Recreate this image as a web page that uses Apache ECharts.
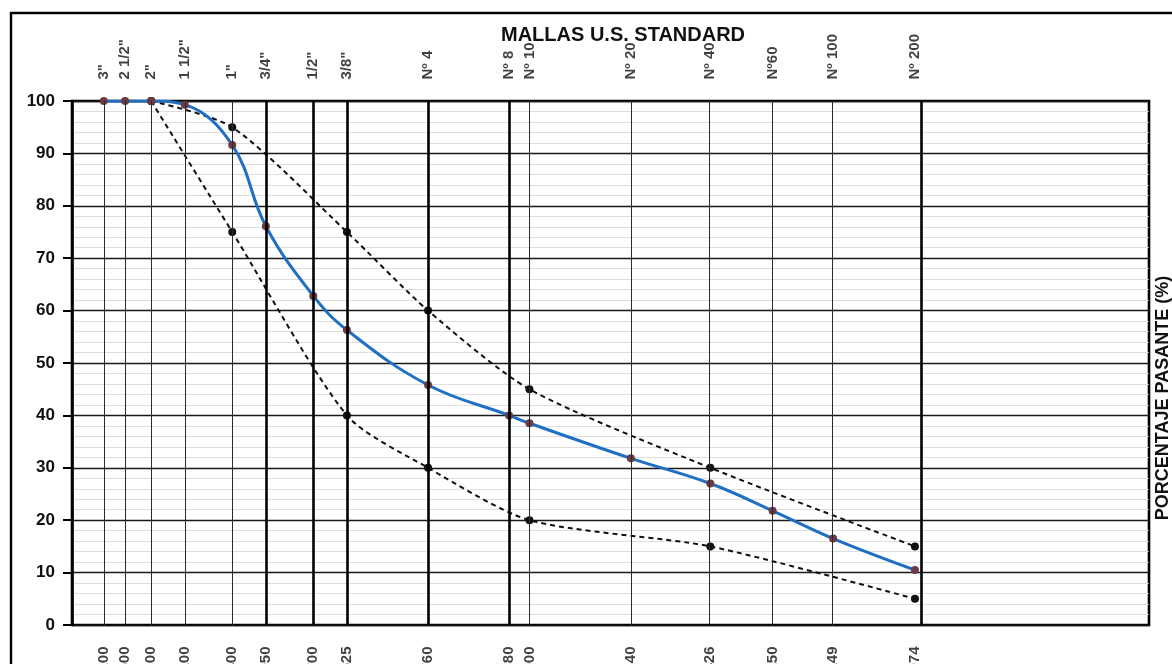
<!DOCTYPE html>
<html>
<head>
<meta charset="utf-8">
<script src="https://cdn.jsdelivr.net/npm/echarts@6/dist/echarts.min.js"></script>
<style>
  html, body { margin: 0; padding: 0; background: #fff; }
  #chart { width: 1172px; height: 664px; }
</style>
</head>
<body>
<div id="chart"></div>
<script>
// Sieve series (U.S. Standard) and their openings in mm
const sieveNames = ['3"', '2 1/2"', '2"', '1 1/2"', '1"', '3/4"', '1/2"', '3/8"', 'Nº 4', 'Nº 8', 'Nº 10', 'Nº 20', 'Nº 40', 'Nº60', 'Nº 100', 'Nº 200'];
const sieveSizes = [76.2, 63.5, 50.8, 38.1, 25.4, 19.05, 12.7, 9.525, 4.76, 2.38, 2.0, 0.84, 0.426, 0.25, 0.149, 0.074];
// Sieves drawn with a heavy rule
const heavySieves = ['3/4"', '1/2"', '3/8"', 'Nº 4', 'Nº 8', 'Nº 200'];

// Percent passing of the sample, one value per sieve
const passing = [100, 100, 100, 99.3, 91.6, 76.1, 62.8, 56.3, 45.8, 40.0, 38.5, 31.8, 27.0, 21.8, 16.5, 10.5];

// Gradation band limits
const specSizes = [50.8, 25.4, 9.525, 4.76, 2.0, 0.426, 0.074];
const specUpper = [100, 95, 75, 60, 45, 30, 15];
const specLower = [100, 75, 40, 30, 20, 15, 5];

const FONT = '"Liberation Sans", Arial, sans-serif';

const pairs = (xs, ys) => xs.map((x, i) => [x, ys[i]]);

const sieveRules = sieveNames.map((name, i) => {
  const heavy = heavySieves.includes(name);
  return {
    xAxis: sieveSizes[i],
    lineStyle: { color: heavy ? '#000' : '#2a2a2a', width: heavy ? 2.6 : 1, type: 'solid' }
  };
});

const chart = echarts.init(document.getElementById('chart'), null, { renderer: 'canvas' });

chart.setOption({
  backgroundColor: '#fff',
  animation: false,
  title: {
    text: 'MALLAS U.S. STANDARD',
    left: 496, top: 20,
    textStyle: { fontFamily: FONT, fontWeight: 'bold', fontSize: 20, color: '#111' }
  },
  grid: {
    left: 72, right: 23, top: 101, bottom: 39,
    show: true, borderColor: '#000', borderWidth: 2.6, backgroundColor: 'transparent'
  },
  xAxis: {
    type: 'log', logBase: 10, min: 0.01, max: 100, inverse: true,
    axisLine: { show: false }, axisTick: { show: false }, axisLabel: { show: false },
    splitLine: { show: false }
  },
  yAxis: [{
    type: 'value', min: 0, max: 100, interval: 10,
    axisLine: { show: true, lineStyle: { color: '#000', width: 2.6 } },
    axisTick: { show: true, inside: false, length: 9, lineStyle: { color: '#000', width: 2 } },
    axisLabel: { margin: 17, fontFamily: FONT, fontWeight: 'bold', fontSize: 17, color: '#111' },
    splitLine: { show: true, lineStyle: { color: '#1a1a1a', width: 1.4 } },
    minorTick: { show: false, splitNumber: 5 },
    minorSplitLine: { show: true, lineStyle: { color: '#d6d6d6', width: 0.8 } }
  }],
  graphic: [
    {
      type: 'rect', silent: true, z: -1,
      shape: { x: 11, y: 13, width: 1200, height: 700 },
      style: { fill: 'transparent', stroke: '#000', lineWidth: 2.4 }
    },
    {
      type: 'text', silent: true,
      x: 1163, y: 398, rotation: Math.PI / 2,
      style: {
        text: 'PORCENTAJE PASANTE (%)', fill: '#111',
        font: 'bold 18px ' + FONT, align: 'center', verticalAlign: 'middle'
      }
    }
  ],
  series: [
    {
      // Sieve rules and names above the grid
      name: 'mallas', type: 'scatter', symbolSize: 1,
      itemStyle: { color: 'transparent' }, silent: true, z: 1,
      data: sieveNames.map((n, i) => ({ name: n, value: [sieveSizes[i], 100] })),
      label: {
        show: true, position: 'top', distance: 21, rotate: 90,
        align: 'left', verticalAlign: 'middle',
        formatter: p => p.name,
        fontFamily: FONT, fontWeight: 'bold', fontSize: 15, color: '#111'
      },
      markLine: {
        silent: true, symbol: ['none', 'none'], animation: false,
        label: { show: false },
        data: sieveRules
      }
    },
    {
      // Openings in mm below the grid
      name: 'aberturas', type: 'scatter', symbolSize: 1,
      itemStyle: { color: 'transparent' }, silent: true, z: 1,
      data: sieveSizes.map(s => ({ name: s.toFixed(3), value: [s, 0] })),
      label: {
        show: true, position: 'bottom', distance: 21, rotate: 90,
        align: 'right', verticalAlign: 'middle',
        formatter: p => p.name,
        fontFamily: FONT, fontWeight: 'bold', fontSize: 15, color: '#111'
      }
    },
    {
      name: 'Límite superior', type: 'line', smooth: 0.25, z: 3,
      data: pairs(specSizes, specUpper),
      symbol: 'circle', symbolSize: 8,
      itemStyle: { color: '#111' },
      lineStyle: { color: '#111', width: 2, type: [5, 4] }
    },
    {
      name: 'Límite inferior', type: 'line', smooth: 0.25, z: 3,
      data: pairs(specSizes, specLower),
      symbol: 'circle', symbolSize: 8,
      itemStyle: { color: '#111' },
      lineStyle: { color: '#111', width: 2, type: [5, 4] }
    },
    {
      name: 'Muestra', type: 'line', smooth: 0.4, z: 4,
      data: pairs(sieveSizes, passing),
      symbol: 'circle', symbolSize: 8,
      itemStyle: { color: '#6a3b45' },
      lineStyle: { color: '#1f6fc4', width: 3 }
    }
  ]
});
</script>
</body>
</html>
